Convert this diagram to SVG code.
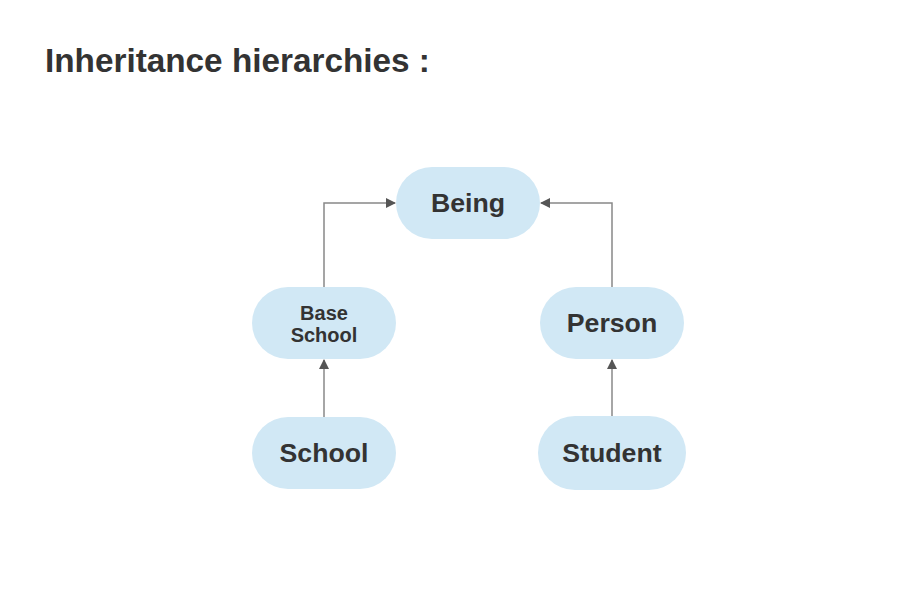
<svg xmlns="http://www.w3.org/2000/svg" width="923" height="597" viewBox="0 0 923 597">
<style>
.node{fill:#d1e8f5;stroke:none}
.lbl{font-family:"Liberation Sans",Arial,sans-serif;font-weight:bold;fill:#333333;text-anchor:middle}
.big{font-size:26.7px}
.small{font-size:20px}
.edge{fill:none;stroke:#888888;stroke-width:1.5}
</style>
<defs>
<marker id="arr" markerWidth="10" markerHeight="10" refX="9" refY="5" orient="auto" markerUnits="userSpaceOnUse">
<path d="M0,0 L10,5 L0,10 Z" fill="#555555"/>
</marker>
</defs>
<rect width="923" height="597" fill="#ffffff"/>
<text x="45" y="72" font-family="'Liberation Sans',Arial,sans-serif" font-weight="bold" font-size="33.3" fill="#333333">Inheritance hierarchies :</text>
<g id="connectors">
<path class="edge" d="M324,287 L324,203 L395,203" marker-end="url(#arr)"/>
<path class="edge" d="M612,287 L612,203 L541,203" marker-end="url(#arr)"/>
<path class="edge" d="M324,417 L324,360" marker-end="url(#arr)"/>
<path class="edge" d="M612,416 L612,360" marker-end="url(#arr)"/>
</g>
<g id="being">
<rect class="node" x="396" y="167" width="144" height="72" rx="36"/>
<text class="lbl big" x="468" y="212">Being</text>
</g>
<g id="baseschool">
<rect class="node" x="252" y="287" width="144" height="72" rx="36"/>
<text class="lbl small" x="324" y="319.5">Base</text>
<text class="lbl small" x="324" y="341.5">School</text>
</g>
<g id="person">
<rect class="node" x="540" y="287" width="144" height="72" rx="36"/>
<text class="lbl big" x="612" y="332">Person</text>
</g>
<g id="school">
<rect class="node" x="252" y="417" width="144" height="72" rx="36"/>
<text class="lbl big" x="324" y="462">School</text>
</g>
<g id="student">
<rect class="node" x="538" y="416" width="148" height="74" rx="37"/>
<text class="lbl big" x="612" y="462">Student</text>
</g>
</svg>
